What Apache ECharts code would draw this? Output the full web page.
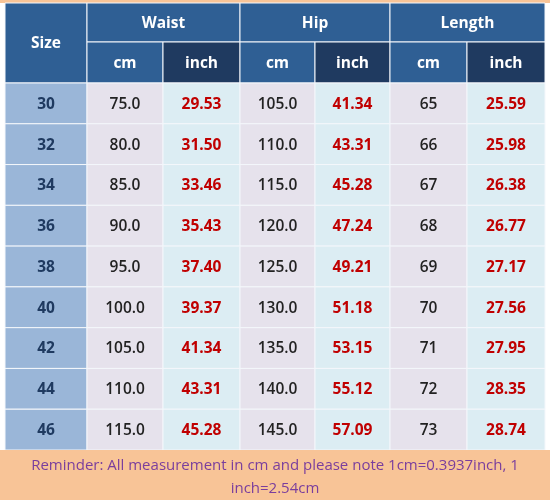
<!DOCTYPE html><html><head><meta charset="utf-8"><script src="https://cdn.jsdelivr.net/npm/echarts@6/dist/echarts.min.js"></script>
<style>html,body{margin:0;padding:0;background:#fff}#c{width:550px;height:500px}</style></head><body><div id="c"></div><script>
const sizes=[30,32,34,36,38,40,42,44,46];
const waistCm=['75.0','80.0','85.0','90.0','95.0','100.0','105.0','110.0','115.0'];
const waistIn=['29.53','31.50','33.46','35.43','37.40','39.37','41.34','43.31','45.28'];
const hipCm=['105.0','110.0','115.0','120.0','125.0','130.0','135.0','140.0','145.0'];
const hipIn=['41.34','43.31','45.28','47.24','49.21','51.18','53.15','55.12','57.09'];
const lenCm=['65','66','67','68','69','70','71','72','73'];
const lenIn=['25.59','25.98','26.38','26.77','27.17','27.56','27.95','28.35','28.74'];
const groups=['Waist','Hip','Length'];
const units=['cm','inch'];
const note='Reminder: All measurement in cm and please note 1cm=0.3937inch, 1\ninch=2.54cm';

const X=[5,87,163,240,315,390,467,545];
const Y0=3,Y1=42,Y2=83,Y3=450,YB=500;
const rh=(Y3-Y2)/sizes.length;
const ST={
 hdr:{fill:'#2f5f94',color:'#fff',weight:'bold',size:15.5},
 hdrDark:{fill:'#1f3a60',color:'#fff',weight:'bold',size:15.5},
 size:{fill:'#9ab6d8',color:'#1f3a60',weight:'bold',size:15.5},
 cm:{fill:'#e6e2ec',color:'#222',weight:'600',size:15.5},
 inch:{fill:'#dcedf3',color:'#c00000',weight:'bold',size:15.5},
 foot:{fill:'#f8c497',color:'#7a3e9d',weight:'normal',size:15}
};
const cells=[];
function add(x0,x1,y0,y1,t,s){cells.push({value:[x0,x1,y0,y1],text:String(t),st:s});}
add(X[0],X[1],Y0,Y2,'Size','hdr');
groups.forEach((g,i)=>{add(X[1+2*i],X[3+2*i],Y0,Y1,g,'hdr');
 units.forEach((u,j)=>add(X[1+2*i+j],X[2+2*i+j],Y1,Y2,u,j?'hdrDark':'hdr'));});
const cols=[waistCm,waistIn,hipCm,hipIn,lenCm,lenIn];
sizes.forEach((s,r)=>{const a=Y2+r*rh,b=a+rh;add(X[0],X[1],a,b,s,'size');
 cols.forEach((c,k)=>add(X[1+k],X[2+k],a,b,c[r],k%2?'inch':'cm'));});
add(0,550,Y3,YB,note,'foot');

const chart=echarts.init(document.getElementById('c'));
chart.setOption({animation:false,
 graphic:[{type:'rect',shape:{x:0,y:0,width:550,height:3},style:{fill:'#f8c497'}}],
 grid:{left:0,right:0,top:0,bottom:0},
 xAxis:{type:'value',min:0,max:550,show:false},
 yAxis:{type:'value',min:0,max:500,inverse:true,show:false},
 series:[{type:'custom',data:cells.map(c=>c.value),
  renderItem:(p,api)=>{const c=cells[p.dataIndex];const s=ST[c.st];
   const a=api.coord([api.value(0),api.value(2)]),b=api.coord([api.value(1),api.value(3)]);
   const isFoot=c.st==='foot';
   return {type:'group',children:[
    {type:'rect',shape:{x:a[0],y:a[1],width:b[0]-a[0],height:b[1]-a[1]},style:{fill:s.fill,stroke:isFoot?null:'#f4f7fb',lineWidth:1}},
    {type:'text',x:(a[0]+b[0])/2,y:(a[1]+b[1])/2+(isFoot?2:1),style:{text:c.text,fill:s.color,align:'center',verticalAlign:'middle',
     font:s.weight+' '+s.size+'px "Open Sans", "Noto Sans", sans-serif',lineHeight:23}}]};
  }}]});
</script></body></html>
